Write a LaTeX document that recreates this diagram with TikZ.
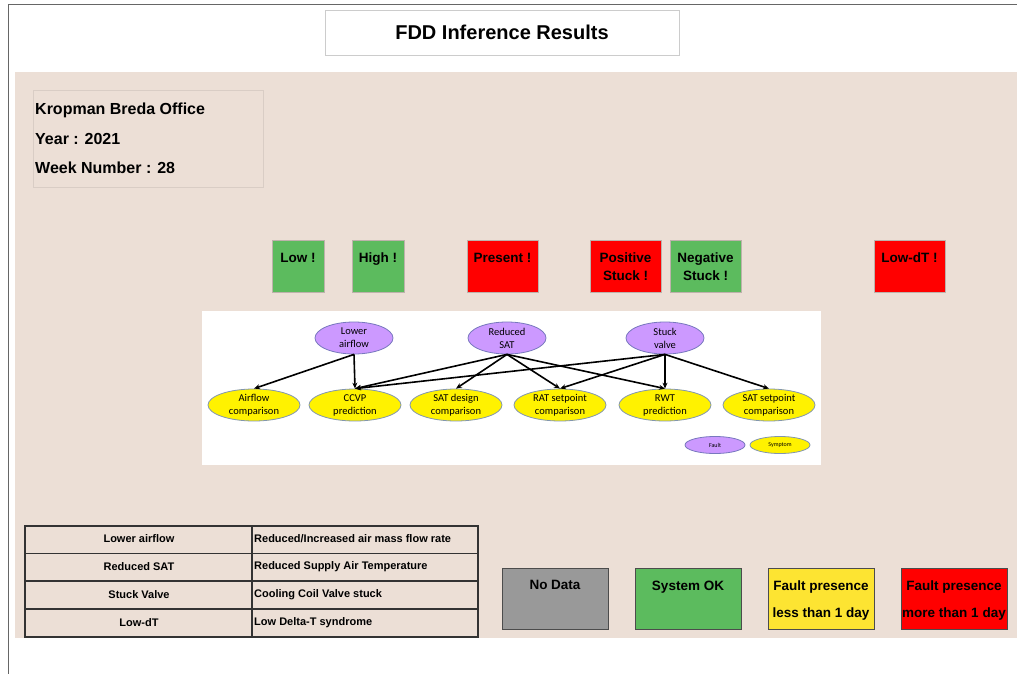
\documentclass[tikz,border=0pt]{standalone}
\usepackage{fontspec}
\setmainfont{Liberation Sans}
\newfontfamily\cali{Carlito}
\usetikzlibrary{shapes.geometric,arrows.meta}
\definecolor{beige}{RGB}{236,223,214}
\definecolor{okgreen}{RGB}{92,187,94}
\definecolor{alarm}{RGB}{255,0,0}
\definecolor{warn}{RGB}{253,228,50}
\definecolor{nodata}{RGB}{153,153,153}
\definecolor{faultfill}{RGB}{204,153,255}
\definecolor{faultline}{RGB}{120,120,190}
\definecolor{symline}{RGB}{130,150,175}
\begin{document}
\begin{tikzpicture}[x=1pt,y=-1pt,
  sbox/.style={draw=beige!80!black,line width=0.4,minimum width=52,minimum height=52,inner sep=0},
  stext/.style={anchor=north,inner sep=0,align=center,font=\fontsize{13.5}{18}\selectfont\bfseries},
  lbox/.style={draw=black!70,line width=1,minimum width=106,minimum height=61,inner sep=0},
  ltext/.style={anchor=north,inner sep=0,align=center,font=\fontsize{13.5}{27}\selectfont\bfseries},
  fault/.style={ellipse,draw=faultline,fill=faultfill,line width=0.8,minimum width=78,minimum height=32,inner sep=0,align=center,font=\cali\fontsize{10.5}{13}\selectfont},
  symptom/.style={ellipse,draw=symline,fill=yellow,line width=0.8,minimum width=92,minimum height=32,inner sep=0,align=center,font=\cali\fontsize{10.5}{13}\selectfont},
  edge/.style={-{Stealth[length=6,width=5]},line width=1.6,black},
  ttext/.style={inner sep=0,font=\fontsize{11}{13}\selectfont\bfseries},
  info/.style={anchor=base west,inner sep=0,font=\fontsize{16}{19}\selectfont\bfseries}]
\useasboundingbox (0,0) rectangle (1017,674);
\fill[white] (0,0) rectangle (1017,674);
% outer frame edges
\draw[black!60,line width=1] (8,674) -- (8,5) -- (1017,5);
% title
\node[draw=black!20,line width=0.8,fill=white,minimum width=354,minimum height=45,inner sep=0,font=\fontsize{20}{24}\selectfont\bfseries] (title) at (502,32.5) {FDD Inference Results};
% beige panel
\fill[beige] (15,72) rectangle (1017,638);
% info box
\node[draw=beige!92!black,line width=0.8,minimum width=230,minimum height=97,inner sep=0] (infobox) at (148,138.5) {};
\node[info] (site) at (35,115) {Kropman Breda Office};
\node[info] (year) at (35,144) {Year : 2021};
\node[info] (week) at (35,173) {Week Number : 28};
% status boxes
\node[sbox,fill=okgreen] (low) at (298,266) {};
\node[stext] at ([yshift=-13]low.north) {Low !};
\node[sbox,fill=okgreen] (high) at (378,266) {};
\node[stext] at ([yshift=-13]high.north) {High !};
\node[sbox,fill=alarm,minimum width=71] (present) at (502.5,266) {};
\node[stext] at ([yshift=-13]present.north) {Present !};
\node[sbox,fill=alarm,minimum width=71] (pos) at (625.5,266) {};
\node[stext] at ([yshift=-13]pos.north) {Positive\\Stuck !};
\node[sbox,fill=okgreen,minimum width=71] (neg) at (705.5,266) {};
\node[stext] at ([yshift=-13]neg.north) {Negative\\Stuck !};
\node[sbox,fill=alarm,minimum width=71] (lowdt) at (909.5,266) {};
\node[stext] at ([yshift=-13]lowdt.north) {Low-dT !};
% Bayesian network picture
\fill[white] (202,311) rectangle (821,465);
\node[fault] (la) at (354,338) {Lower\\airflow};
\node[fault] (rs) at (507,338) {Reduced\\SAT};
\node[fault] (sv) at (665,338) {Stuck\\valve};
\node[symptom] (ac) at (254,405) {Airflow\\comparison};
\node[symptom] (cc) at (355,405) {CCVP\\prediction};
\node[symptom] (sd) at (456,405) {SAT design\\comparison};
\node[symptom] (ra) at (560,405) {RAT setpoint\\comparison};
\node[symptom] (rw) at (665,405) {RWT\\prediction};
\node[symptom] (ss) at (769,405) {SAT setpoint\\comparison};
\draw[edge] (la.south) -- (ac.north);
\draw[edge] (la.south) -- (cc.north);
\draw[edge] (rs.south) -- (cc.north);
\draw[edge] (rs.south) -- (sd.north);
\draw[edge] (rs.south) -- (ra.north);
\draw[edge] (rs.south) -- (rw.north);
\draw[edge] (sv.south) -- (cc.north);
\draw[edge] (sv.south) -- (ra.north);
\draw[edge] (sv.south) -- (rw.north);
\draw[edge] (sv.south) -- (ss.north);
\node[fault,minimum width=60,minimum height=17,font=\cali\fontsize{6}{7}\selectfont] (lf) at (715,445) {Fault};
\node[symptom,minimum width=60,minimum height=17,font=\cali\fontsize{6}{7}\selectfont] (ls) at (780,445) {Symptom};
% table
\draw[black!80,line width=1.2] (25,526) rectangle (478,637);
\foreach \yy in {553.5,581,609} \draw[black!80,line width=1.2] (25,\yy) -- (478,\yy);
\draw[black!80,line width=1.2] (252,526) -- (252,637);
\node[ttext] (t1a) at (139,538.5) {Lower airflow};
\node[ttext] (t2a) at (139,566.5) {Reduced SAT};
\node[ttext] (t3a) at (139,594.5) {Stuck Valve};
\node[ttext] (t4a) at (139,622.5) {Low-dT};
\node[ttext,anchor=west] (t1b) at (254,538.5) {Reduced/Increased air mass flow rate};
\node[ttext,anchor=west] (t2b) at (254,566.5) {Reduced Supply Air Temperature};
\node[ttext,anchor=west] (t3b) at (254,594.5) {Cooling Coil Valve stuck};
\node[ttext,anchor=west] (t4b) at (254,622.5) {Low Delta-T syndrome};
% legend boxes
\node[lbox,fill=nodata] (nd) at (555,598.5) {};
\node[ltext] at ([yshift=-13]nd.north) {No Data};
\node[lbox,fill=okgreen] (ok) at (688,598.5) {};
\node[ltext] at ([yshift=-13]ok.north) {System OK};
\node[lbox,fill=warn] (fl) at (821,598.5) {};
\node[ltext] at ([yshift=-13]fl.north) {Fault presence\\less than 1 day};
\node[lbox,fill=alarm] (fm) at (954,598.5) {};
\node[ltext] at ([yshift=-13]fm.north) {Fault presence\\more than 1 day};
\end{tikzpicture}
\end{document}
